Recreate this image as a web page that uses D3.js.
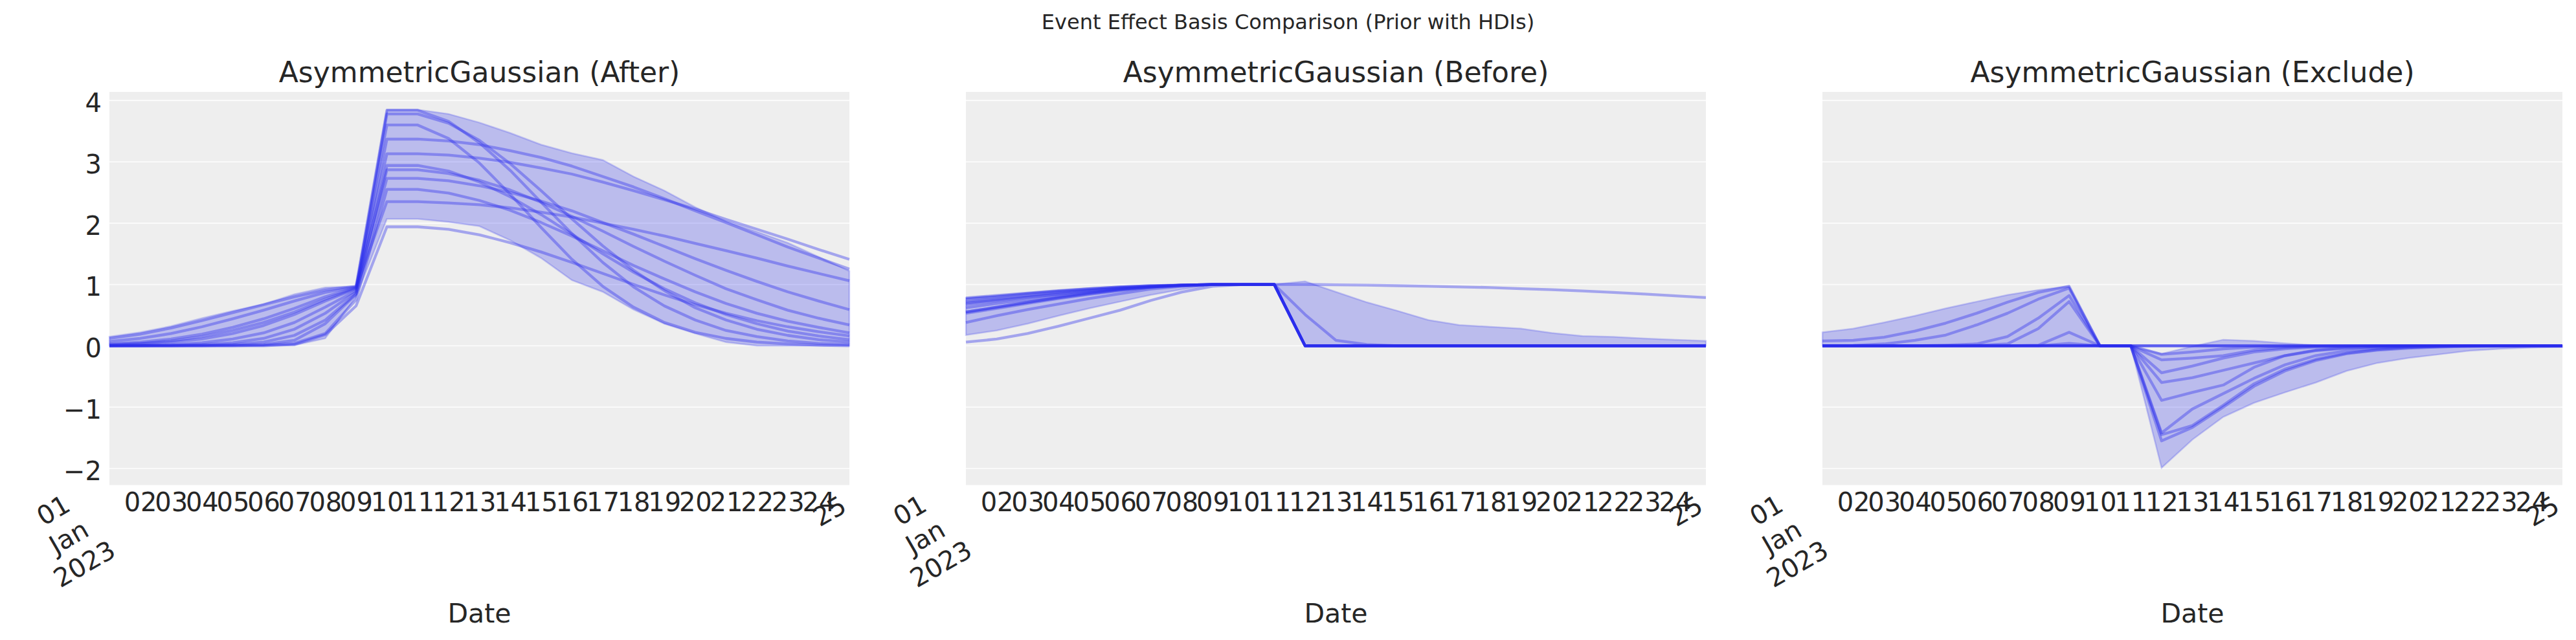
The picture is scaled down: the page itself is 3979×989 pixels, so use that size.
<!DOCTYPE html>
<html><head><meta charset="utf-8">
<script src="https://cdn.jsdelivr.net/npm/d3@7"></script>
<style>
html,body{margin:0;padding:0;background:#fff;}
svg{display:block;}
text{font-family:"DejaVu Sans",sans-serif;fill:#262626;}
</style>
</head><body>
<svg id="chart" width="3979" height="989"></svg>
<script>
// ---------------- DATA ----------------
const dateStrings = ["2023-01-01","2023-01-02","2023-01-03","2023-01-04","2023-01-05","2023-01-06","2023-01-07",
  "2023-01-08","2023-01-09","2023-01-10","2023-01-11","2023-01-12","2023-01-13","2023-01-14","2023-01-15",
  "2023-01-16","2023-01-17","2023-01-18","2023-01-19","2023-01-20","2023-01-21","2023-01-22","2023-01-23",
  "2023-01-24","2023-01-25"];
const yTickValues = [-2, -1, 0, 1, 2, 3, 4];
const minorTickLabels = ["02","03","04","05","06","07","08","09","10","11","12","13","14","15","16","17","18","19","20","21","22","23","24"];
const firstTickLabel = ["01", "Jan", "2023"];
const lastTickLabel = "25";
const panelTitles = ["AsymmetricGaussian (After)", "AsymmetricGaussian (Before)", "AsymmetricGaussian (Exclude)"];
const figureTitle = "Event Effect Basis Comparison (Prior with HDIs)";
const xAxisLabel = "Date";

// Panel 1: After
const afterSamples = [
  [0.12,0.19,0.29,0.41,0.54,0.67,0.80,0.91,0.97, 3.84,3.84,3.66,3.31,2.86,2.34,1.83,1.36,0.96,0.65,0.42,0.25,0.15,0.08,0.04,0.02],
  [0.00,0.01,0.02,0.05,0.11,0.21,0.38,0.63,0.90, 3.78,3.78,3.63,3.35,2.97,2.53,2.07,1.63,1.23,0.90,0.62,0.42,0.27,0.17,0.10,0.06],
  [0.03,0.06,0.11,0.19,0.30,0.44,0.61,0.80,0.95, 3.60,3.60,3.38,2.98,2.47,1.93,1.41,0.97,0.63,0.38,0.22,0.12,0.06,0.03,0.01,0.00],
  [0.00,0.00,0.01,0.02,0.05,0.12,0.27,0.53,0.88, 3.37,3.37,3.34,3.28,3.18,3.07,2.93,2.76,2.59,2.40,2.20,2.01,1.81,1.61,1.43,1.25],
  [0.07,0.12,0.20,0.31,0.44,0.58,0.73,0.87,0.96, 3.13,3.13,3.11,3.06,2.99,2.90,2.80,2.67,2.53,2.38,2.23,2.06,1.90,1.74,1.57,1.41],
  [0.00,0.00,0.00,0.01,0.02,0.06,0.17,0.42,0.85, 2.94,2.94,2.85,2.67,2.43,2.14,1.82,1.50,1.20,0.93,0.70,0.51,0.36,0.24,0.16,0.10],
  [0.01,0.03,0.06,0.11,0.20,0.33,0.51,0.73,0.93, 2.87,2.87,2.81,2.70,2.54,2.34,2.11,1.87,1.62,1.38,1.15,0.93,0.75,0.58,0.45,0.34],
  [0.00,0.00,0.00,0.00,0.01,0.02,0.09,0.36,0.84, 2.73,2.73,2.69,2.61,2.50,2.36,2.20,2.01,1.82,1.62,1.42,1.23,1.05,0.88,0.73,0.59],
  [0.00,0.00,0.00,0.00,0.00,0.01,0.04,0.20,0.75, 2.55,2.55,2.49,2.37,2.21,2.01,1.79,1.55,1.31,1.09,0.88,0.69,0.53,0.40,0.30,0.21],
  [0.02,0.04,0.08,0.15,0.25,0.38,0.55,0.76,0.94, 2.35,2.35,2.33,2.30,2.25,2.18,2.10,2.00,1.90,1.79,1.67,1.55,1.43,1.30,1.18,1.06],
  [0.00,0.00,0.00,0.00,0.00,0.00,0.02,0.18,0.65, 1.94,1.94,1.90,1.81,1.68,1.53,1.36,1.18,1.00,0.83,0.67,0.53,0.41,0.31,0.23,0.16]
];
const afterHdiLow  = [0,0,0,0,0,0,0.01,0.12,0.80, 2.07,2.07,2.02,1.95,1.72,1.43,1.07,0.88,0.59,0.36,0.20,0.06,0,0,0,0];
const afterHdiHigh = [0.15,0.22,0.32,0.45,0.57,0.68,0.84,0.95,0.97, 3.85,3.85,3.78,3.64,3.47,3.28,3.14,3.03,2.76,2.53,2.26,2.03,1.86,1.68,1.45,1.22];

// Panel 2: Before
const beforeSamples = [
  [0.76,0.80,0.85,0.89,0.93,0.96,0.98,0.99,1.00,1.00,1.00, 1.00,0.995,0.99,0.98,0.97,0.96,0.95,0.93,0.915,0.895,0.87,0.845,0.815,0.785],
  [0.72,0.77,0.82,0.87,0.91,0.95,0.97,0.99,1.00,1.00,1.00, 0,0,0,0,0,0,0,0,0,0,0,0,0,0],
  [0.67,0.73,0.79,0.84,0.89,0.93,0.96,0.99,1.00,1.00,1.00, 0,0,0,0,0,0,0,0,0,0,0,0,0,0],
  [0.62,0.69,0.75,0.81,0.87,0.92,0.96,0.98,1.00,1.00,1.00, 0.51,0.09,0.02,0,0,0,0,0,0,0,0,0,0,0],
  [0.55,0.63,0.71,0.79,0.86,0.92,0.96,0.99,1.00,1.00,1.00, 0,0,0,0,0,0,0,0,0,0,0,0,0,0],
  [0.55,0.63,0.71,0.78,0.85,0.91,0.96,0.99,1.00,1.00,1.00, 0,0,0,0,0,0,0,0,0,0,0,0,0,0],
  [0.53,0.61,0.69,0.77,0.84,0.90,0.95,0.98,1.00,1.00,1.00, 0,0,0,0,0,0,0,0,0,0,0,0,0,0],
  [0.38,0.49,0.59,0.68,0.77,0.85,0.925,0.97,1.00,1.00,1.00, 0,0,0,0,0,0,0,0,0,0,0,0,0,0],
  [0.06,0.11,0.20,0.32,0.45,0.58,0.74,0.875,0.97,1.00,1.00, 0,0,0,0,0,0,0,0,0,0,0,0,0,0],
  [0.78,0.82,0.86,0.90,0.93,0.96,0.98,0.99,1.00,1.00,1.00, 0,0,0,0,0,0,0,0,0,0,0,0,0,0],
  [0.70,0.75,0.80,0.85,0.90,0.94,0.97,0.99,1.00,1.00,1.00, 0,0,0,0,0,0,0,0,0,0,0,0,0,0]
];
const beforeHdiLow  = [0.175,0.25,0.36,0.49,0.61,0.72,0.83,0.92,0.99,1.00,1.00, 0,0,0,0,0,0,0,0,0,0,0,0,0,0];
const beforeHdiHigh = [0.78,0.82,0.86,0.90,0.93,0.96,0.98,0.99,1.00,1.00,1.00, 1.05,0.88,0.71,0.57,0.42,0.34,0.31,0.28,0.21,0.16,0.145,0.12,0.10,0.08];

// Panel 3: Exclude
const excludeSamples = [
  [0.08,0.09,0.14,0.24,0.37,0.53,0.71,0.87,0.97, 0,0, -0.14,-0.10,-0.05,-0.02,-0.01,0,0,0,0,0,0,0,0,0],
  [0.00,0.005,0.03,0.09,0.175,0.34,0.53,0.76,0.94, 0,0, -0.89,-0.76,-0.64,-0.35,-0.16,-0.07,-0.03,-0.01,0,0,0,0,0,0],
  [0,0,0,0,0.01,0.03,0.15,0.45,0.82, 0,0, -1.45,-1.30,-0.97,-0.62,-0.38,-0.22,-0.12,-0.06,-0.03,-0.01,0,0,0,0],
  [0,0,0,0,0,0.005,0.03,0.28,0.72, 0,0, -0.60,-0.52,-0.40,-0.28,-0.16,-0.08,-0.04,-0.02,-0.01,0,0,0,0,0],
  [0,0,0,0,0,0,0,0.01,0.22, 0,0, -1.55,-1.33,-1.00,-0.66,-0.41,-0.24,-0.13,-0.07,-0.04,-0.02,-0.01,0,0,0],
  [0,0,0,0,0,0,0,0,0.04, 0,0, -0.44,-0.33,-0.20,-0.10,-0.05,-0.02,-0.01,0,0,0,0,0,0,0],
  [0,0,0,0,0,0,0,0,0, 0,0, -1.42,-1.03,-0.78,-0.53,-0.31,-0.16,-0.08,-0.04,-0.02,-0.01,0,0,0,0],
  [0,0,0,0,0,0,0,0,0, 0,0, -0.23,-0.20,-0.16,-0.07,-0.03,-0.01,0,0,0,0,0,0,0,0],
  [0,0,0,0,0,0,0,0,0, 0,0, 0,0,0,0,0,0,0,0,0,0,0,0,0,0],
  [0,0,0,0,0,0,0,0,0, 0,0, 0,0,0,0,0,0,0,0,0,0,0,0,0,0],
  [0,0,0,0,0,0,0,0,0, 0,0, 0,0,0,0,0,0,0,0,0,0,0,0,0,0]
];
const excludeHdiLow  = [0,0,0,0,0,0,0,0,0, 0,0, -1.99,-1.53,-1.16,-0.93,-0.76,-0.60,-0.41,-0.28,-0.20,-0.14,-0.08,-0.05,-0.03,-0.02];
const excludeHdiHigh = [0.22,0.28,0.38,0.49,0.61,0.72,0.83,0.91,0.97, 0,0, -0.13,-0.01,0.10,0.08,0.04,0.01,0,0,0,0,0,0,0,0];

// ---------------- LAYOUT ----------------
const panels = [
  {title: panelTitles[0], samples: afterSamples, low: afterHdiLow, high: afterHdiHigh},
  {title: panelTitles[1], samples: beforeSamples, low: beforeHdiLow, high: beforeHdiHigh},
  {title: panelTitles[2], samples: excludeSamples, low: excludeHdiLow, high: excludeHdiHigh}
];
const FIG_W = 3979;
const panelLefts = [169, 1492, 2815];
const panelWidth = 1143;
const plotTop = 142, plotBottom = 749.5;
const plotH = plotBottom - plotTop;
const color = "#2a2eec";

const svg = d3.select("#chart");
const parse = d3.timeParse("%Y-%m-%d");
const dates = dateStrings.map(parse);
const x = d3.scaleTime().domain([dates[0], dates[dates.length - 1]]).range([0, panelWidth]);
const y = d3.scaleLinear().domain([-2.27, 4.14]).range([plotH, 0]);
const fmtMinus = d => (d < 0 ? "\u2212" + Math.abs(d) : String(d));

svg.append("text")
  .attr("x", FIG_W / 2).attr("y", 45)
  .attr("text-anchor", "middle")
  .style("font-size", "32px")
  .text(figureTitle);

panels.forEach((p, pi) => {
  const g = svg.append("g").attr("transform", `translate(${panelLefts[pi]},${plotTop})`);
  g.append("rect").attr("width", panelWidth).attr("height", plotH).attr("fill", "#eeeeee");

  // grid
  g.selectAll("line.grid").data(yTickValues).enter().append("line")
    .attr("x1", 0).attr("x2", panelWidth)
    .attr("y1", d => y(d)).attr("y2", d => y(d))
    .attr("stroke", "#ffffff").attr("stroke-width", 1.8).attr("stroke-opacity", 0.8);

  // HDI band
  const area = d3.area()
    .x((d, i) => x(dates[i]))
    .y0((d, i) => y(p.low[i]))
    .y1((d, i) => y(p.high[i]));
  g.append("path").datum(p.high).attr("d", area)
    .attr("fill", color).attr("fill-opacity", 0.26)
    .attr("stroke", color).attr("stroke-opacity", 0.22).attr("stroke-width", 2.5);

  // sample lines
  const line = d3.line().x((d, i) => x(dates[i])).y(d => y(d));
  g.selectAll("path.sample").data(p.samples).enter().append("path")
    .attr("d", line).attr("fill", "none")
    .attr("stroke", color).attr("stroke-opacity", 0.38)
    .attr("stroke-width", 4.3).attr("stroke-linejoin", "round");

  // y axis (only first panel shows labels)
  if (pi === 0) {
    const ya = g.append("g").call(d3.axisLeft(y).tickValues(yTickValues).tickFormat(fmtMinus).tickSize(0).tickPadding(12));
    ya.select(".domain").remove();
    ya.selectAll("text").style("font-size", "40px").style("font-family", "DejaVu Sans").attr("fill", "#262626").attr("dy", "0.43em");
  }

  // x axis minor labels
  const xa = g.append("g").attr("transform", `translate(0,${plotH})`)
    .call(d3.axisBottom(x).tickValues(dates.slice(1, dates.length - 1))
      .tickFormat((d, i) => minorTickLabels[i]).tickSize(0).tickPadding(12));
  xa.select(".domain").remove();
  xa.selectAll("text").style("font-size", "40px").style("font-family", "DejaVu Sans").attr("fill", "#262626");

  // major rotated labels
  const first = g.append("g")
    .attr("transform", `translate(${x(dates[0]) - 63},${plotH + 80}) rotate(-30)`);
  first.selectAll("text").data(firstTickLabel).enter().append("text")
    .attr("x", 0).attr("y", (d, i) => (i - 1) * 48 + 14.5)
    .attr("text-anchor", "middle").style("font-size", "40px").text(d => d);
  g.append("text")
    .attr("transform", `translate(${x(dates[dates.length - 1]) - 31},${plotH + 40}) rotate(-30)`)
    .attr("y", 14.5).attr("text-anchor", "middle").style("font-size", "40px").text(lastTickLabel);

  // titles
  g.append("text").attr("x", panelWidth / 2).attr("y", 127 - plotTop)
    .attr("text-anchor", "middle").style("font-size", "44px").text(p.title);
  g.append("text").attr("x", panelWidth / 2).attr("y", 962 - plotTop)
    .attr("text-anchor", "middle").style("font-size", "41px").text(xAxisLabel);
});
</script>
</body></html>
